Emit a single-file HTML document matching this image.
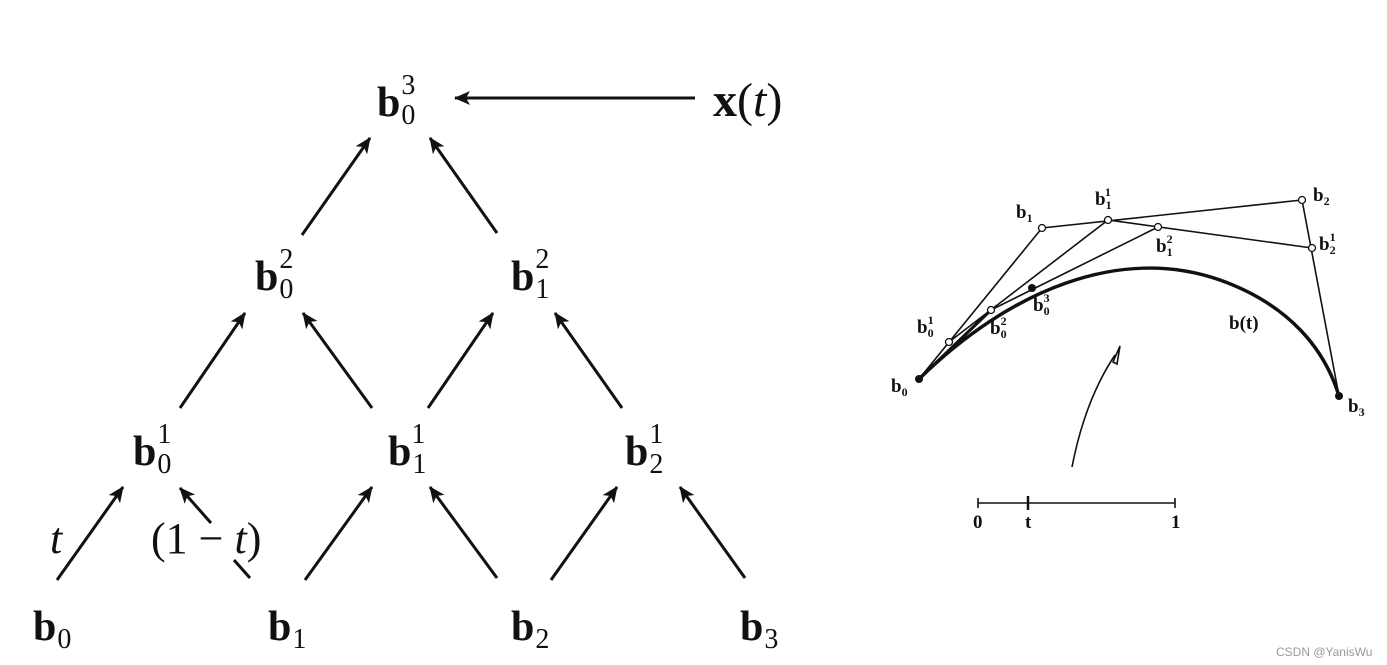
<!DOCTYPE html>
<html><head><meta charset="utf-8"><style>
html,body{margin:0;padding:0;background:#fff;}
svg{display:block;}
.m{font-family:"Liberation Serif",serif;fill:#111;}
.b{font-weight:bold;font-size:42px;}
.s{font-size:28px;font-weight:normal;}
.r{font-family:"Liberation Serif",serif;font-weight:bold;fill:#111;font-size:19px;}
.rs{font-size:12px;}
</style></head><body>
<svg width="1387" height="665" viewBox="0 0 1387 665" xmlns="http://www.w3.org/2000/svg">
<defs>
<marker id="ah2" markerWidth="16" markerHeight="14" refX="15" refY="7" orient="auto" markerUnits="userSpaceOnUse">
<path d="M0,0 L16,7 L0,14 L4,7 z" fill="#111"/></marker>
</defs>
<g stroke="#111" stroke-width="3" fill="none" marker-end="url(#ah2)">
<line x1="695" y1="98" x2="455" y2="98"/>
<line x1="302" y1="235" x2="370" y2="138"/>
<line x1="497" y1="233" x2="430" y2="138"/>
<line x1="180" y1="408" x2="245" y2="313"/>
<line x1="372" y1="408" x2="303" y2="313"/>
<line x1="428" y1="408" x2="493" y2="313"/>
<line x1="622" y1="408" x2="555" y2="313"/>
<line x1="57" y1="580" x2="123" y2="487"/>
<line x1="211" y1="523" x2="180" y2="488"/>
<line x1="305" y1="580" x2="372" y2="487"/>
<line x1="497" y1="578" x2="430" y2="487"/>
<line x1="551" y1="580" x2="617" y2="487"/>
<line x1="745" y1="578" x2="680" y2="487"/>
</g>
<line x1="250" y1="578" x2="234" y2="560" stroke="#111" stroke-width="3"/>
<text class="m b" x="377" y="116">b<tspan class="s" dx="1" dy="8">0</tspan><tspan class="s" dx="-14" dy="-30">3</tspan></text>
<text class="m" x="713" y="116" font-size="48"><tspan font-weight="bold">x</tspan>(<tspan font-style="italic">t</tspan>)</text>
<text class="m b" x="255" y="290">b<tspan class="s" dx="1" dy="8">0</tspan><tspan class="s" dx="-14" dy="-30">2</tspan></text>
<text class="m b" x="511" y="290">b<tspan class="s" dx="1" dy="8">1</tspan><tspan class="s" dx="-14" dy="-30">2</tspan></text>
<text class="m b" x="133" y="465">b<tspan class="s" dx="1" dy="8">0</tspan><tspan class="s" dx="-14" dy="-30">1</tspan></text>
<text class="m b" x="388" y="465">b<tspan class="s" dx="1" dy="8">1</tspan><tspan class="s" dx="-14" dy="-30">1</tspan></text>
<text class="m b" x="625" y="465">b<tspan class="s" dx="1" dy="8">2</tspan><tspan class="s" dx="-14" dy="-30">1</tspan></text>
<text class="m b" x="33" y="640">b<tspan class="s" dx="1" dy="8">0</tspan></text>
<text class="m b" x="268" y="640">b<tspan class="s" dx="1" dy="8">1</tspan></text>
<text class="m b" x="511" y="640">b<tspan class="s" dx="1" dy="8">2</tspan></text>
<text class="m b" x="740" y="640">b<tspan class="s" dx="1" dy="8">3</tspan></text>
<text class="m" x="50" y="553" font-size="44" font-style="italic" fill="#1c2033">t</text>
<text class="m" x="151" y="553" font-size="44" fill="#1c2033">(1 − <tspan font-style="italic">t</tspan>)</text>

<g stroke="#111" stroke-width="1.6" fill="none">
<polyline points="919,379 1042,228 1302,200 1339,396"/>
<polyline points="949,342 1108,220 1312,248"/>
<polyline points="991,310 1158,227"/>
<path d="M919,379 C1010,290 1120,245 1220,280 C1290,305 1325,350 1339,396" stroke-width="3.5"/>
<line x1="919" y1="379" x2="991" y2="310" stroke-width="3"/>
<path d="M1072,467 Q1085,400 1115,355"/>
<path d="M1113,362 L1120,346 L1117,364 z" fill="#fff"/>
<line x1="978" y1="503" x2="1175" y2="503"/>
<line x1="978" y1="498" x2="978" y2="508"/>
<line x1="1175" y1="498" x2="1175" y2="508"/>
<line x1="1028" y1="496" x2="1028" y2="510" stroke-width="2.5"/>
</g>
<g fill="#fff" stroke="#111" stroke-width="1.3">
<circle cx="1042" cy="228" r="3.5"/><circle cx="1302" cy="200" r="3.5"/>
<circle cx="949" cy="342" r="3.5"/><circle cx="1108" cy="220" r="3.5"/>
<circle cx="1312" cy="248" r="3.5"/><circle cx="991" cy="310" r="3.5"/>
<circle cx="1158" cy="227" r="3.5"/>
</g>
<g fill="#111"><circle cx="919" cy="379" r="4"/><circle cx="1339" cy="396" r="4"/><circle cx="1032" cy="288" r="4"/></g>
<text class="r" x="1016" y="218">b<tspan class="rs" dy="4">1</tspan></text>
<text class="r" x="1095" y="205">b<tspan class="rs" dy="4">1</tspan><tspan class="rs" dx="-6" dy="-13">1</tspan></text>
<text class="r" x="1313" y="201">b<tspan class="rs" dy="4">2</tspan></text>
<text class="r" x="1319" y="250">b<tspan class="rs" dy="4">2</tspan><tspan class="rs" dx="-6" dy="-13">1</tspan></text>
<text class="r" x="1156" y="252">b<tspan class="rs" dy="4">1</tspan><tspan class="rs" dx="-6" dy="-13">2</tspan></text>
<text class="r" x="1033" y="311">b<tspan class="rs" dy="4">0</tspan><tspan class="rs" dx="-6" dy="-13">3</tspan></text>
<text class="r" x="990" y="334">b<tspan class="rs" dy="4">0</tspan><tspan class="rs" dx="-6" dy="-13">2</tspan></text>
<text class="r" x="917" y="333">b<tspan class="rs" dy="4">0</tspan><tspan class="rs" dx="-6" dy="-13">1</tspan></text>
<text class="r" x="891" y="392">b<tspan class="rs" dy="4">0</tspan></text>
<text class="r" x="1348" y="412">b<tspan class="rs" dy="4">3</tspan></text>
<text class="r" x="1229" y="329">b(t)</text>
<text class="r" x="973" y="528" font-weight="normal" font-size="17">0</text>
<text class="r" x="1025" y="528" font-weight="normal" font-size="17">t</text>
<text class="r" x="1171" y="528" font-weight="normal" font-size="17">1</text>
<text x="1276" y="656" font-family="Liberation Sans,sans-serif" font-size="12" fill="#999">CSDN @YanisWu</text>
</svg>
</body></html>
